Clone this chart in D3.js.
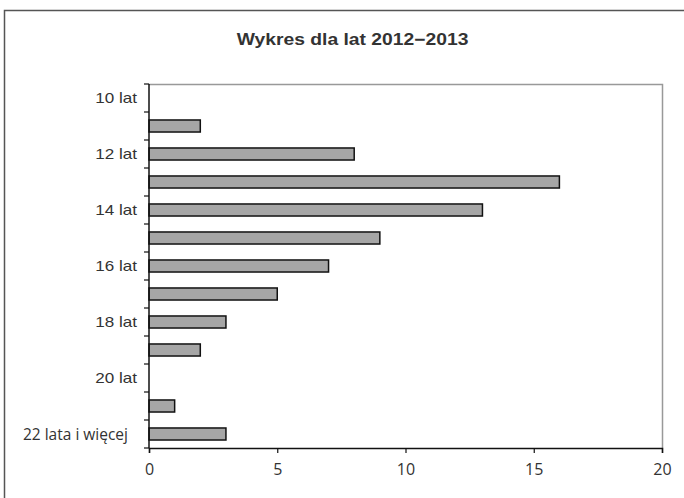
<!DOCTYPE html>
<html>
<head>
<meta charset="utf-8">
<style>
  body { margin: 0; background: white; }
  text { font-family: "Liberation Sans", Arial, sans-serif; fill: #333; }
</style>
</head>
<body>
<script src="https://d3js.org/d3.v7.min.js"></script>
<script>
  // data
  var categories = ["10 lat", "11 lat", "12 lat", "13 lat", "14 lat", "15 lat", "16 lat",
                    "17 lat", "18 lat", "19 lat", "20 lat", "21 lat", "22 lata i więcej"];
  var values = [0, 2, 8, 16, 13, 9, 7, 5, 3, 2, 0, 1, 3];
  // only every other category label is printed
  var shownLabels = ["10 lat", "12 lat", "14 lat", "16 lat", "18 lat", "20 lat", "22 lata i więcej"];
  var xTicks = [0, 5, 10, 15, 20];
  var title = "Wykres dla lat 2012\u22122013";

  var W = 684, H = 498;
  var plot = {left: 149, right: 662, top: 84, bottom: 448};

  var svg = d3.select("body").append("svg")
    .attr("width", W)
    .attr("height", H);

  // outer frame (clipped at right/bottom like the original)
  svg.append("rect")
    .attr("x", 4.5).attr("y", 10.5)
    .attr("width", 700).attr("height", 500)
    .attr("fill", "white")
    .attr("stroke", "#555")
    .attr("stroke-width", 1.5);

  // title, a bit wider than the plain font
  svg.append("text")
    .attr("transform", "translate(352.5,45) scale(1.17,1)")
    .attr("text-anchor", "middle")
    .style("font-size", "16.5px")
    .style("font-weight", "bold")
    .text(title);

  var x = d3.scaleLinear().domain([0, 20]).range([plot.left, plot.right]);
  var y = d3.scaleBand().domain(categories).range([plot.top, plot.bottom]).paddingInner(0.57).paddingOuter(0.285);
  var yBand = d3.scaleBand().domain(categories).range([plot.top, plot.bottom]);

  // top and right plot border
  svg.append("path")
    .attr("d", "M" + plot.left + "," + (plot.top + 0.5) + "H" + (plot.right + 0.5) + "V" + plot.bottom)
    .attr("fill", "none")
    .attr("stroke", "#999")
    .attr("stroke-width", 1.5);

  // bars
  svg.selectAll("rect.bar")
    .data(values)
    .enter()
  .append("rect")
    .attr("class", "bar")
    .attr("x", x(0))
    .attr("y", (d, i) => y(categories[i]))
    .attr("width", d => x(d) - x(0))
    .attr("height", y.bandwidth())
    .attr("fill", "#a6a6a6")
    .attr("stroke", "#111")
    .attr("stroke-width", 1.5)
    .style("display", d => d > 0 ? null : "none");

  // y axis: ticks between categories
  var yAxis = svg.append("g");
  yAxis.append("line")
    .attr("x1", plot.left).attr("x2", plot.left)
    .attr("y1", plot.top).attr("y2", plot.bottom)
    .attr("stroke", "#111").attr("stroke-width", 1.5);
  yAxis.selectAll("line.tick")
    .data(categories.concat(["end"]))
    .enter()
  .append("line")
    .attr("class", "tick")
    .attr("x1", plot.left - 5).attr("x2", plot.left)
    .attr("y1", (d, i) => plot.top + i * yBand.step())
    .attr("y2", (d, i) => plot.top + i * yBand.step())
    .attr("stroke", "#111").attr("stroke-width", 1.2);

  // the last label is set in another face and sits a little further left
  var isLast = d => d.indexOf("więcej") >= 0;
  yAxis.selectAll("text")
    .data(shownLabels)
    .enter()
  .append("text")
    .attr("transform", d => isLast(d)
      ? "translate(128," + (yBand(d) + yBand.bandwidth() / 2) + ")"
      : "translate(137," + (yBand(d) + yBand.bandwidth() / 2) + ") scale(1.22,1)")
    .attr("dy", "0.36em")
    .attr("text-anchor", "end")
    .style("font-family", d => isLast(d) ? "'Open Sans', sans-serif" : null)
    .style("font-size", d => isLast(d) ? "15.5px" : "14px")
    .text(d => d);

  // x axis
  var xAxis = svg.append("g")
    .attr("transform", "translate(0," + plot.bottom + ")")
    .call(d3.axisBottom(x).tickValues(xTicks).tickSize(5).tickPadding(11));
  xAxis.select(".domain").attr("stroke", "#111").attr("stroke-width", 1.5);
  xAxis.selectAll(".tick line").attr("stroke", "#111").attr("stroke-width", 1.2);
  xAxis.selectAll(".tick text")
    .style("font-family", "'Open Sans', sans-serif")
    .style("font-size", "16px")
    .attr("fill", "#333");
</script>
</body>
</html>
